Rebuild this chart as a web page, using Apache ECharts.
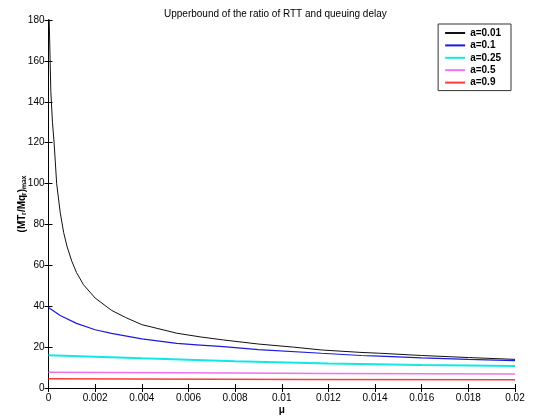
<!DOCTYPE html>
<html>
<head>
<meta charset="utf-8">
<script src="https://cdn.jsdelivr.net/npm/echarts@6/dist/echarts.min.js"></script>
<style>
  html, body { margin: 0; padding: 0; background: #fff; }
  #chart { width: 533px; height: 416px; }
</style>
</head>
<body>
<div id="chart"></div>
<script>
// values
const legendNames = ['a=0.01', 'a=0.1', 'a=0.25', 'a=0.5', 'a=0.9'];

const muA001 = [0, 0.00003, 0.0001, 0.00017, 0.00024, 0.00035, 0.0005, 0.00065, 0.0008, 0.001, 0.0012, 0.0015, 0.002, 0.0027, 0.0033, 0.004, 0.0055, 0.0065, 0.0075, 0.009, 0.0105, 0.0117, 0.0134, 0.0142, 0.016, 0.018, 0.02];
const valA001 = [260, 180, 145, 130, 120, 100, 86, 76, 69, 62, 56.5, 50.5, 44, 38, 34.5, 31, 26.8, 25, 23.5, 21.5, 20, 18.6, 17.4, 17, 15.9, 14.9, 14];

const muA01 = [0, 0.0005, 0.0012, 0.002, 0.0027, 0.004, 0.0055, 0.0065, 0.0075, 0.009, 0.0117, 0.0134, 0.0142, 0.016, 0.018, 0.02];
const valA01 = [39.4, 35.5, 31.6, 28.5, 26.7, 24, 21.8, 21, 20.2, 18.8, 17, 15.9, 15.6, 14.7, 14, 13.4];

const muA025 = [0, 0.004, 0.008, 0.012, 0.016, 0.02];
const valA025 = [16, 14.5, 13.1, 12, 11.3, 10.8];

const muA05 = [0, 0.008, 0.012, 0.02];
const valA05 = [7.7, 7.3, 7.1, 6.8];

const muA09 = [0, 0.011, 0.02];
const valA09 = [4.5, 4.2, 4.0];

const xTicks = { min: 0, max: 0.02, interval: 0.002 };
const yTicks = { min: 0, max: 180, interval: 20 };

const pairs = (xs, ys) => xs.map((x, i) => [x, ys[i]]);

const chart = echarts.init(document.getElementById('chart'));

const font = 'Liberation Sans, Arial, sans-serif';

const lineSeries = (name, xs, ys, color, width) => ({
  name: name,
  type: 'line',
  data: pairs(xs, ys),
  symbol: 'none',
  smooth: false,
  clip: true,
  lineStyle: { color: color, width: width },
  itemStyle: { color: color },
  animation: false
});

chart.setOption({
  backgroundColor: '#fff',
  title: {
    text: 'Upperbound of the ratio of RTT and queuing delay',
    left: 159,
    top: 4,
    textStyle: { fontFamily: font, fontSize: 10, fontWeight: 'normal', color: '#000' }
  },
  grid: { left: 48.5, right: 18, top: 20, bottom: 28, containLabel: false, outerBoundsMode: 'none' },
  legend: {
    data: legendNames,
    orient: 'vertical',
    right: 22,
    top: 24,
    itemWidth: 20,
    itemHeight: 10,
    itemGap: 2.4,
    padding: [4, 10, 3, 6],
    borderColor: '#333',
    borderWidth: 1,
    backgroundColor: '#fff',
    // hide the circle marker, keep the line sample
    itemStyle: { color: 'rgba(0,0,0,0)', borderWidth: 0, opacity: 0 },
    textStyle: { fontFamily: font, fontSize: 10, fontWeight: 'bold', color: '#000' }
  },
  xAxis: [
    {
      type: 'value',
      min: xTicks.min, max: xTicks.max, interval: xTicks.interval,
      name: 'μ',
      nameLocation: 'middle',
      nameGap: 17,
      nameMoveOverlap: false,
      nameTextStyle: { fontFamily: font, fontSize: 10, fontWeight: 'bold', color: '#000' },
      axisLine: { lineStyle: { color: '#000', width: 1 } },
      axisTick: { inside: true, length: 4, lineStyle: { color: '#000' } },
      axisLabel: {
        fontFamily: font, fontSize: 10, color: '#000', margin: 5,
        formatter: v => String(+v.toFixed(3))
      },
      splitLine: { show: false }
    },
    {
      type: 'value', position: 'top',
      min: xTicks.min, max: xTicks.max, interval: xTicks.interval,
      axisLine: { lineStyle: { color: '#000', width: 1 } },
      axisTick: { inside: true, length: 4, lineStyle: { color: '#000' } },
      axisLabel: { show: false },
      splitLine: { show: false }
    }
  ],
  yAxis: [
    {
      type: 'value',
      min: yTicks.min, max: yTicks.max, interval: yTicks.interval,
      name: '(MTᵣ/Mqᵣ)ₘₐₓ',
      nameLocation: 'middle',
      nameGap: 21,
      nameMoveOverlap: false,
      nameTextStyle: { fontFamily: font, fontSize: 10, fontWeight: 'bold', color: '#000' },
      axisLine: { lineStyle: { color: '#000', width: 1 } },
      axisTick: { inside: true, length: 4, lineStyle: { color: '#000' } },
      axisLabel: { fontFamily: font, fontSize: 10, color: '#000', margin: 4 },
      splitLine: { show: false }
    },
    {
      type: 'value', position: 'right',
      min: yTicks.min, max: yTicks.max, interval: yTicks.interval,
      axisLine: { lineStyle: { color: '#000', width: 1 } },
      axisTick: { inside: true, length: 4, lineStyle: { color: '#000' } },
      axisLabel: { show: false },
      splitLine: { show: false }
    }
  ],
  series: [
    lineSeries(legendNames[0], muA001, valA001, '#111', 1),
    lineSeries(legendNames[1], muA01, valA01, '#1a1ae0', 1.2),
    lineSeries(legendNames[2], muA025, valA025, '#10e8e8', 2),
    lineSeries(legendNames[3], muA05, valA05, '#f070f0', 1.5),
    lineSeries(legendNames[4], muA09, valA09, '#ff3a3a', 1.5)
  ]
});
</script>
</body>
</html>
